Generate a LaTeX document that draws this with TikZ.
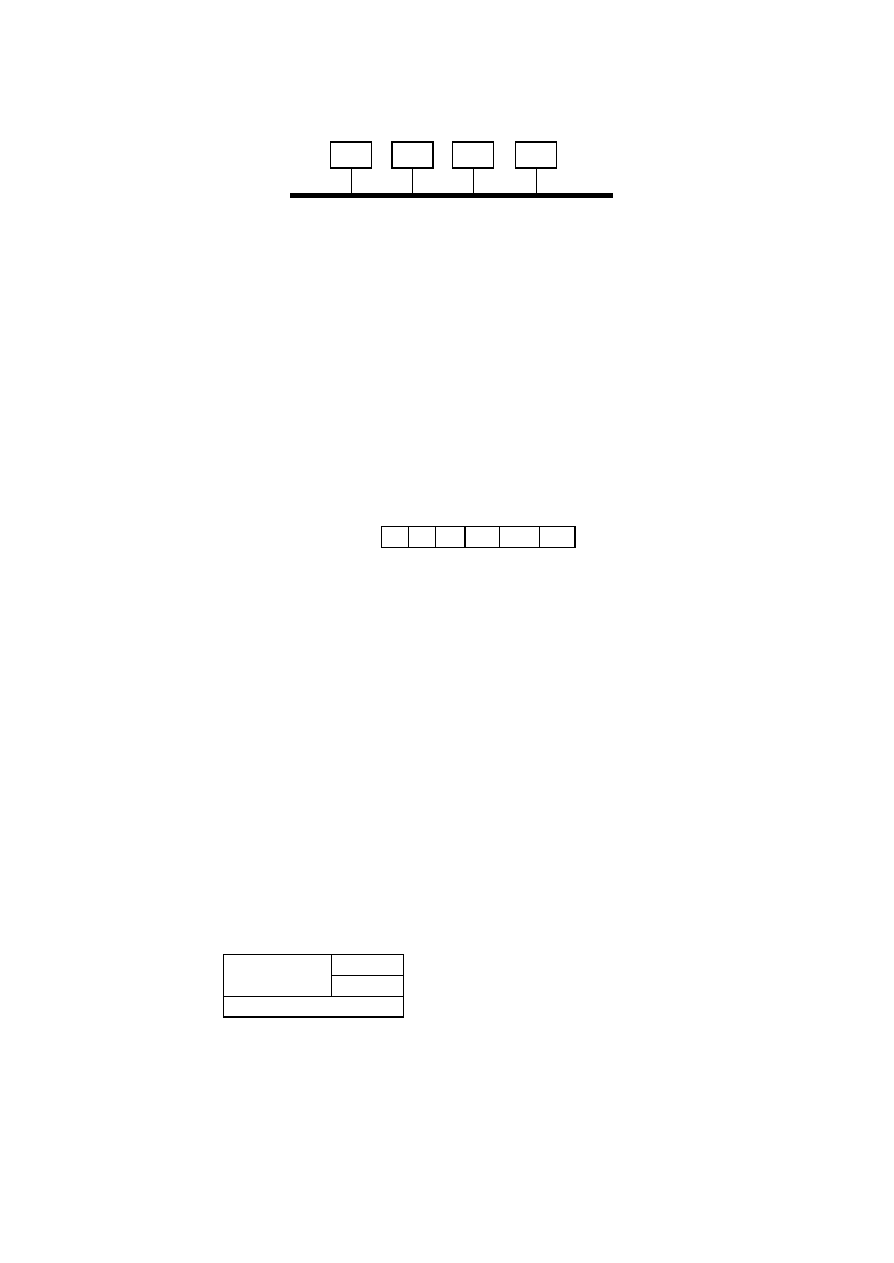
\documentclass[tikz,border=0pt]{standalone}
\usepackage{tikz}
\usetikzlibrary{positioning}
\newcommand{\px}{0.6666pt}
\tikzset{
  station/.style={draw,line width=0.9pt,minimum width=41*\px,minimum height=26*\px,inner sep=0pt,outer sep=0pt},
  tap/.style={line width=0.5pt},
  bus/.style={line width=3pt},
  field/.style={draw,line width=0.7pt,minimum height=20.6*\px,inner sep=0pt,outer sep=0pt}
}

\begin{document}
\begin{tikzpicture}[x=\px,y=-\px]
  \useasboundingbox (0,0) rectangle (893,1263);
  % bus with four stations
  \coordinate (busL) at (290,195.5);
  \coordinate (busR) at (613,195.5);
  \draw[bus] (busL) -- (busR);
  \foreach \name/\x in {s1/351,s2/412.5,s3/473,s4/536}{
    \node[station] (\name) at (\x,155) {};
    \coordinate (\name tap) at (\name.south |- busL);
    \draw[tap] (\name.south) -- (\name tap);
  }
  % frame row
  \node[field,minimum width=26.6*\px,anchor=north west] (f1) at (381.7,526.7) {};
  \node[field,minimum width=27*\px,right=0pt of f1] (f2) {};
  \node[field,minimum width=29.7*\px,right=0pt of f2] (f3) {};
  \node[field,minimum width=34.3*\px,right=0pt of f3] (f4) {};
  \node[field,minimum width=40*\px,right=0pt of f4] (f5) {};
  \node[field,minimum width=35.7*\px,right=0pt of f5] (f6) {};
  % bottom table
  \node[field,anchor=north west,minimum width=108*\px,minimum height=42*\px] (big) at (223.3,954.3) {};
  \node[field,anchor=north west,minimum width=72*\px,minimum height=21*\px] (upper) at (big.north east) {};
  \node[field,minimum width=72*\px,minimum height=21*\px,below=0pt of upper] (lower) {};
  \node[field,anchor=north west,minimum width=180*\px,minimum height=20.7*\px] (base) at (big.south west) {};
\end{tikzpicture}
\end{document}
